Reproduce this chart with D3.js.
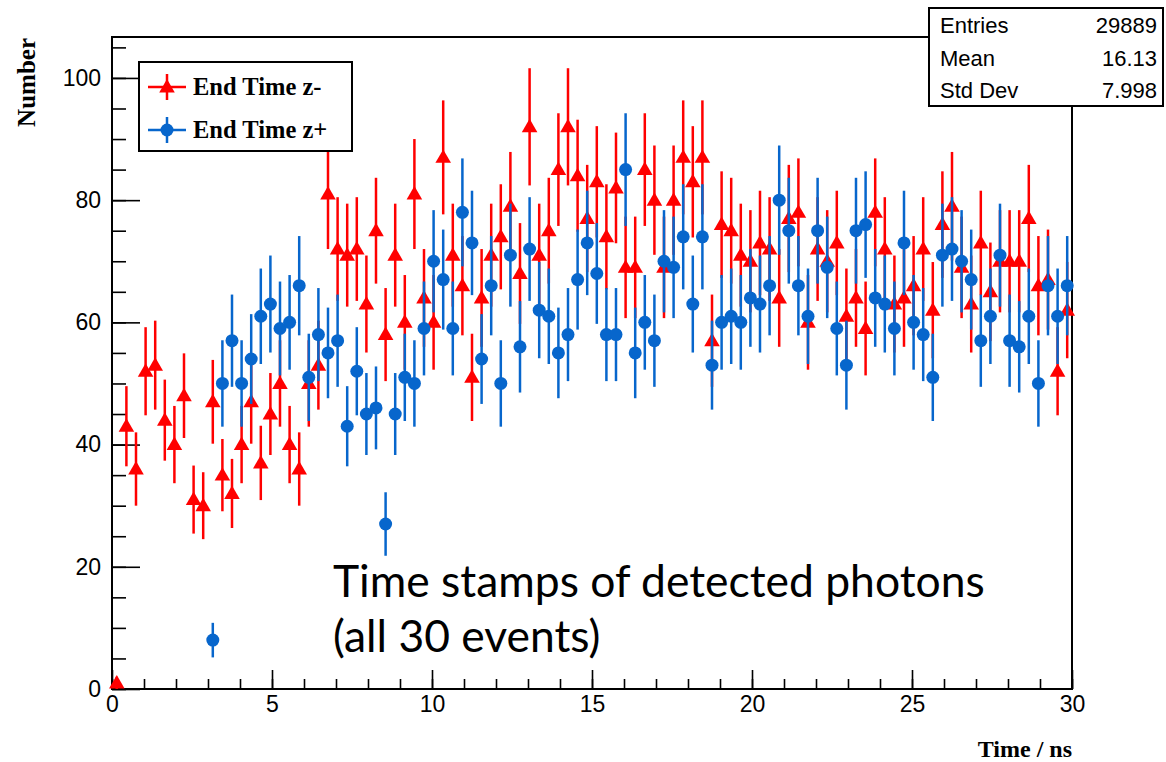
<!DOCTYPE html>
<html>
<head>
<meta charset="utf-8">
<script src="https://cdn.jsdelivr.net/npm/d3@7"></script>
<style>
  body { margin: 0; background: #fff; }
  svg { display: block; }
</style>
</head>
<body>
<svg width="1166" height="762"></svg>
<script>
// Bin setup: 100 bins from 0 to 30 ns
var binLo = 0, binHi = 30, nBins = 100;

// End Time z- (red triangles), counts per bin
var redCounts = [
  1, 43, 36, 52, 53, 44, 40, 48, 31, 30,
  47, 35, 32, 40, 47, 37, 45, 50, 40, 36,
  50, 53, 81, 72, 71, 72, 63, 75, 58, 71,
  60, 81, 64, 60, 87, 71, 66, 51, 64, 71,
  74, 79, 68, 92, 71, 75, 85, 92, 84, 77,
  83, 74, 82, 69, 69, 85, 80, 69, 80, 87,
  83, 87, 57, 76, 75, 71, 70, 73, 72, 64,
  77, 78, 60, 72, 70, 73, 61, 64, 59, 78,
  72, 63, 64, 66, 72, 62, 76, 79, 69, 63,
  73, 65, 70, 70, 70, 77, 66, 67, 52, 62
];

// End Time z+ (blue circles), counts per bin
var blueCounts = [
  0, 0, 0, 0, 0, 0, 0, 0, 0, 0,
  8, 50, 57, 50, 54, 61, 63, 59, 60, 66,
  51, 58, 55, 57, 43, 52, 45, 46, 27, 45,
  51, 50, 59, 70, 67, 59, 78, 73, 54, 66,
  50, 71, 56, 72, 62, 61, 55, 58, 67, 73,
  68, 58, 58, 85, 55, 60, 57, 70, 69, 74,
  63, 74, 53, 60, 61, 60, 64, 63, 66, 80,
  75, 66, 61, 75, 69, 59, 53, 75, 76, 64,
  63, 59, 73, 60, 58, 51, 71, 72, 70, 67,
  57, 61, 71, 57, 56, 61, 50, 66, 61, 66
];

var seriesNames = ["End Time z-", "End Time z+"];
var xMajorTicks = [0, 5, 10, 15, 20, 25, 30];
var yMajorTicks = [0, 20, 40, 60, 80, 100];
var statLabels = ["Entries", "Mean", "Std Dev"];
var statValues = ["29889", "16.13", "7.998"];
var noteLines = ["Time stamps of detected photons", "(all 30 events)"];

var svg = d3.select("svg");
// frame edges (note: "top" is taken by window.top, so use other names)
var padL = 112, padR = 1072, padT = 37, padB = 689;
var red = "#ff0000", blue = "#0766cc";
var tickFont = "'Liberation Sans', Arial, sans-serif";
var titleFont = "'Liberation Serif', 'Times New Roman', serif";

var x = d3.scaleLinear().domain([binLo, binHi]).range([padL, padR]);
var y = d3.scaleLinear().domain([0, 106.7]).range([padB, padT]);

var binW = (binHi - binLo) / nBins;
function toBins(counts) {
  return counts.map(function (c, i) {
    return { x: binLo + binW * (i + 0.5), n: c, err: Math.sqrt(c) };
  }).filter(function (d) { return d.n > 0; });
}

// frame
svg.append("rect")
  .attr("x", padL).attr("y", padT)
  .attr("width", padR - padL).attr("height", padB - padT)
  .attr("fill", "none").attr("stroke", "#000").attr("stroke-width", 2);

// axes: ticks point into the frame, ROOT style
var xMinor = d3.range(0, 31, 1);
var yMinor = d3.range(0, 106, 5);

svg.append("g")
  .attr("transform", "translate(0," + padB + ")")
  .call(d3.axisBottom(x).tickValues(xMinor).tickSize(-10).tickFormat(""))
  .call(function (g) { g.select(".domain").remove(); });

var xAxis = svg.append("g")
  .attr("transform", "translate(0," + padB + ")")
  .call(d3.axisBottom(x).tickValues(xMajorTicks).tickSize(-19).tickPadding(7).tickFormat(d3.format("d")));
xAxis.select(".domain").remove();

svg.append("g")
  .attr("transform", "translate(" + padL + ",0)")
  .call(d3.axisLeft(y).tickValues(yMinor).tickSize(-14).tickFormat(""))
  .call(function (g) { g.select(".domain").remove(); });

var yAxis = svg.append("g")
  .attr("transform", "translate(" + padL + ",0)")
  .call(d3.axisLeft(y).tickValues(yMajorTicks).tickSize(-28).tickPadding(11).tickFormat(d3.format("d")));
yAxis.select(".domain").remove();

svg.selectAll(".tick line").attr("stroke", "#000").attr("stroke-width", 1.6);
svg.selectAll(".tick text")
  .attr("font-family", tickFont).attr("font-size", 23).attr("fill", "#000");

// axis titles
svg.append("text")
  .attr("x", padR).attr("y", 757)
  .attr("text-anchor", "end")
  .attr("font-family", titleFont).attr("font-weight", "bold").attr("font-size", 24)
  .text("Time / ns");

svg.append("text")
  .attr("transform", "translate(35,38) rotate(-90)")
  .attr("text-anchor", "end")
  .attr("font-family", titleFont).attr("font-weight", "bold").attr("font-size", 25)
  .text("Number");

// histograms with Poisson error bars
var triangle = d3.symbol().type(d3.symbolTriangle).size(105);

function drawSeries(bins, color, marker) {
  var g = svg.append("g");
  g.selectAll("line")
    .data(bins)
    .enter()
    .append("line")
    .attr("x1", function (d) { return x(d.x); })
    .attr("x2", function (d) { return x(d.x); })
    .attr("y1", function (d) { return y(d.n - d.err); })
    .attr("y2", function (d) { return y(d.n + d.err); })
    .attr("stroke", color).attr("stroke-width", 2.5);

  if (marker === "triangle") {
    g.selectAll("path")
      .data(bins)
      .enter()
      .append("path")
      .attr("d", triangle)
      .attr("transform", function (d) { return "translate(" + x(d.x) + "," + (y(d.n) + 1) + ")"; })
      .attr("fill", color);
  } else {
    g.selectAll("circle")
      .data(bins)
      .enter()
      .append("circle")
      .attr("cx", function (d) { return x(d.x); })
      .attr("cy", function (d) { return y(d.n); })
      .attr("r", 6.5)
      .attr("fill", color);
  }
}

drawSeries(toBins(redCounts), red, "triangle");
drawSeries(toBins(blueCounts), blue, "circle");

// legend
var legend = svg.append("g");
legend.append("rect")
  .attr("x", 139).attr("y", 62).attr("width", 213).attr("height", 89)
  .attr("fill", "#fff").attr("stroke", "#000").attr("stroke-width", 2);

var legendRows = [
  { name: seriesNames[0], color: red, marker: "triangle", cy: 87 },
  { name: seriesNames[1], color: blue, marker: "circle", cy: 130 }
];
legendRows.forEach(function (r) {
  legend.append("line")
    .attr("x1", 148).attr("x2", 186).attr("y1", r.cy).attr("y2", r.cy)
    .attr("stroke", r.color).attr("stroke-width", 2.5);
  legend.append("line")
    .attr("x1", 167).attr("x2", 167).attr("y1", r.cy - 13).attr("y2", r.cy + 13)
    .attr("stroke", r.color).attr("stroke-width", 2.5);
  if (r.marker === "triangle") {
    legend.append("path").attr("d", triangle)
      .attr("transform", "translate(167," + (r.cy + 1) + ")").attr("fill", r.color);
  } else {
    legend.append("circle").attr("cx", 167).attr("cy", r.cy).attr("r", 6.5).attr("fill", r.color);
  }
  legend.append("text")
    .attr("x", 193).attr("y", r.cy + 8)
    .attr("font-family", titleFont).attr("font-weight", "bold").attr("font-size", 24.5)
    .text(r.name);
});

// stats box
var stats = svg.append("g");
stats.append("rect")
  .attr("x", 929).attr("y", 8).attr("width", 234).attr("height", 98)
  .attr("fill", "#fff").attr("stroke", "#000").attr("stroke-width", 2);
statLabels.forEach(function (lab, i) {
  var cy = 25 + i * 32.5;
  stats.append("text")
    .attr("x", 940).attr("y", cy + 8)
    .attr("font-family", tickFont).attr("font-size", 22)
    .text(lab);
  stats.append("text")
    .attr("x", 1157).attr("y", cy + 8)
    .attr("text-anchor", "end")
    .attr("font-family", tickFont).attr("font-size", 22)
    .text(statValues[i]);
});

// annotation, sized to span the same width as the original text
var note = svg.append("g");
noteLines.forEach(function (line, i) {
  note.append("text")
    .attr("x", 333).attr("y", 597 + i * 55)
    .attr("font-family", "Lato, 'Open Sans', sans-serif")
    .attr("font-size", 40)
    .text(line);
});
var first = note.select("text").node();
var w = first.getComputedTextLength();
var fs = 40 * 652 / w;
note.selectAll("text").attr("font-size", fs);
</script>
</body>
</html>
